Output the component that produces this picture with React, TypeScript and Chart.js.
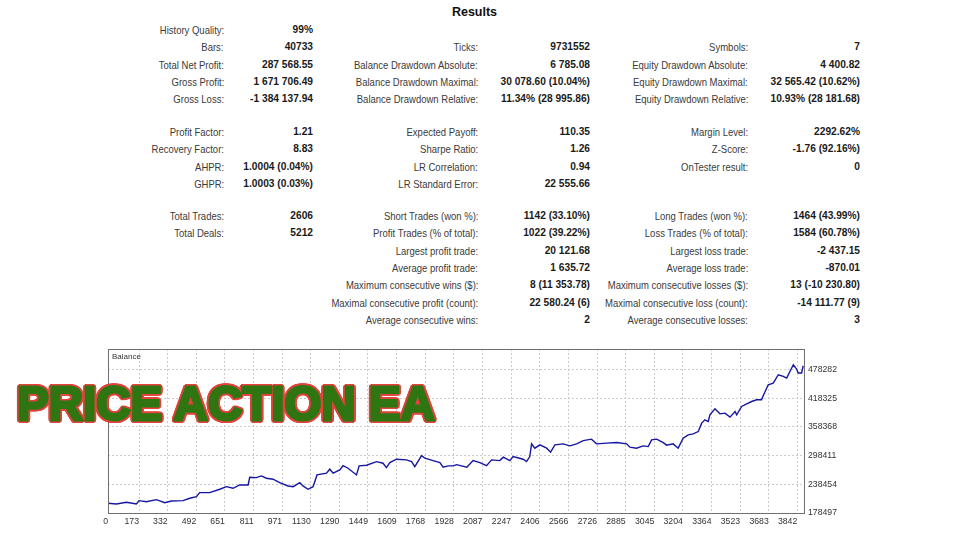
import React, { useEffect, useRef } from "react";
import { Chart, registerables } from "chart.js";
Chart.register(...registerables);

// ---------- report text ----------
const reportTitle = "Results";
const overlayText = "PRICE ACTION EA";
const chartCaption = "Balance";

const group1Labels = [
  ["History Quality:", "", ""],
  ["Bars:", "Ticks:", "Symbols:"],
  ["Total Net Profit:", "Balance Drawdown Absolute:", "Equity Drawdown Absolute:"],
  ["Gross Profit:", "Balance Drawdown Maximal:", "Equity Drawdown Maximal:"],
  ["Gross Loss:", "Balance Drawdown Relative:", "Equity Drawdown Relative:"],
];
const group1Values = [
  ["99%", "", ""],
  ["40733", "9731552", "7"],
  ["287 568.55", "6 785.08", "4 400.82"],
  ["1 671 706.49", "30 078.60 (10.04%)", "32 565.42 (10.62%)"],
  ["-1 384 137.94", "11.34% (28 995.86)", "10.93% (28 181.68)"],
];
const group2Labels = [
  ["Profit Factor:", "Expected Payoff:", "Margin Level:"],
  ["Recovery Factor:", "Sharpe Ratio:", "Z-Score:"],
  ["AHPR:", "LR Correlation:", "OnTester result:"],
  ["GHPR:", "LR Standard Error:", ""],
];
const group2Values = [
  ["1.21", "110.35", "2292.62%"],
  ["8.83", "1.26", "-1.76 (92.16%)"],
  ["1.0004 (0.04%)", "0.94", "0"],
  ["1.0003 (0.03%)", "22 555.66", ""],
];
const group3Labels = [
  ["Total Trades:", "Short Trades (won %):", "Long Trades (won %):"],
  ["Total Deals:", "Profit Trades (% of total):", "Loss Trades (% of total):"],
  ["", "Largest profit trade:", "Largest loss trade:"],
  ["", "Average profit trade:", "Average loss trade:"],
  ["", "Maximum consecutive wins ($):", "Maximum consecutive losses ($):"],
  ["", "Maximal consecutive profit (count):", "Maximal consecutive loss (count):"],
  ["", "Average consecutive wins:", "Average consecutive losses:"],
];
const group3Values = [
  ["2606", "1142 (33.10%)", "1464 (43.99%)"],
  ["5212", "1022 (39.22%)", "1584 (60.78%)"],
  ["", "20 121.68", "-2 437.15"],
  ["", "1 635.72", "-870.01"],
  ["", "8 (11 353.78)", "13 (-10 230.80)"],
  ["", "22 580.24 (6)", "-14 111.77 (9)"],
  ["", "2", "3"],
];

// ---------- balance curve ----------
const tradeIndex = [
  0, 47, 103, 158, 173, 214, 270, 316, 354, 418, 456, 493, 511, 567, 623, 660, 697, 734, 781, 790,
  827, 855, 883, 920, 957, 1004, 1032, 1069, 1087, 1115, 1143, 1165, 1218, 1236, 1255, 1292, 1310, 1338, 1385, 1400,
  1441, 1497, 1533, 1552, 1571, 1608, 1664, 1692, 1710, 1748, 1766, 1812, 1850, 1868, 1896, 1924, 1943, 2000, 2035, 2073,
  2110, 2138, 2184, 2203, 2240, 2258, 2314, 2333, 2351, 2361, 2379, 2407, 2445, 2467, 2491, 2537, 2574, 2612, 2649, 2695,
  2723, 2779, 2835, 2891, 2909, 2946, 2983, 3011, 3030, 3058, 3095, 3114, 3150, 3178, 3206, 3234, 3262, 3290, 3309, 3327,
  3346, 3355, 3383, 3411, 3439, 3467, 3495, 3504, 3532, 3560, 3588, 3615, 3643, 3652, 3680, 3708, 3736, 3764, 3783, 3801,
  3820, 3838, 3847, 3866, 3875,
];
const balance = [
  198790, 197325, 200881, 197325, 204229, 202137, 206321, 200045, 203601, 204229, 209249, 212597, 220965, 220965, 228077, 233517, 230169, 237073, 237073, 253181,
  252345, 255901, 251089, 248997, 241885, 234981, 233517, 241885, 234981, 228077, 233517, 257993, 261549, 269917, 261549, 268453, 277449, 272009, 257993, 276821,
  278285, 285817, 282469, 273265, 283725, 290837, 289373, 285817, 275357, 298369, 292929, 287909, 283725, 274101, 276821, 276821, 279541, 274101, 287909, 283725,
  277449, 289373, 287909, 295021, 287909, 296277, 290837, 285817, 296277, 322845, 313849, 320753, 313849, 305481, 320753, 322845, 318661, 322845, 329749, 332677,
  322845, 324309, 325565, 322845, 315941, 313849, 318661, 317197, 331213, 332677, 325565, 320125, 322845, 313849, 334769, 341673, 343765, 348577, 366149, 373053,
  369497, 383513, 396065, 385605, 387069, 378701, 390417, 383513, 400877, 406525, 411337, 414893, 414893, 423261, 446273, 449829, 467193, 463637, 460289, 474097,
  488113, 479117, 470749, 470749, 486021,
];

const xTickValues = [0, 173, 332, 492, 651, 811, 971, 1130, 1290, 1449, 1609, 1768, 1928, 2087, 2247, 2406, 2566, 2726, 2885, 3045, 3204, 3364, 3523, 3683, 3842];
const yTickValues = [178497, 238454, 298411, 358368, 418325, 478282];
const xMax = 3885;
const yMin = 178497;
const yMax = 520957;

// ---------- layout ----------
const FONT = '"Liberation Sans", Arial, sans-serif';
const groupTops = [30, 132, 216];
const rowStep = 17.33;
const labelRight = [224, 478, 748];
const valueRight = [313, 590, 860];

function Cell({ text, right, cy, bold }: { text: string; right: number; cy: number; bold?: boolean }) {
  if (!text) return null;
  return (
    <div
      style={{
        position: "absolute",
        right: 960 - right,
        top: cy - 6,
        height: 12,
        lineHeight: "12px",
        fontSize: bold ? 10.2 : 10.5,
        fontWeight: bold ? 700 : 400,
        color: bold ? "#1a1a1a" : "#3a3a3a",
        whiteSpace: "nowrap",
        transform: bold ? "none" : "scaleX(0.905)",
        transformOrigin: "right center",
      }}
    >
      {text}
    </div>
  );
}

function outlineShadow(r: number, color: string) {
  const parts: string[] = [];
  for (let i = 0; i < 24; i++) {
    const a = (i / 24) * Math.PI * 2;
    parts.push(`${(Math.cos(a) * r).toFixed(2)}px ${(Math.sin(a) * r).toFixed(2)}px 0 ${color}`);
  }
  return parts.join(", ");
}

export default function App() {
  const ref = useRef<HTMLCanvasElement | null>(null);

  useEffect(() => {
    if (!ref.current) return;
    const framePlugin = {
      id: "frame",
      afterDraw(chart: any) {
        const { ctx, chartArea } = chart;
        ctx.save();
        ctx.strokeStyle = "#6f6f6f";
        ctx.lineWidth = 1;
        ctx.strokeRect(
          Math.round(chartArea.left) + 0.5,
          Math.round(chartArea.top) + 0.5,
          Math.round(chartArea.right - chartArea.left) - 1,
          Math.round(chartArea.bottom - chartArea.top)
        );
        ctx.fillStyle = "#333";
        ctx.font = `8px ${FONT}`;
        ctx.textBaseline = "middle";
        ctx.fillText(chartCaption, chartArea.left + 4, chartArea.top + 8);
        ctx.restore();
      },
    };

    const chart = new Chart(ref.current, {
      type: "line",
      data: {
        datasets: [
          {
            data: tradeIndex.map((x, i) => ({ x, y: balance[i] })),
            borderColor: "#1616a2",
            borderWidth: 1.4,
            pointRadius: 0,
            tension: 0,
            fill: false,
          },
        ],
      },
      options: {
        animation: false,
        responsive: false,
        devicePixelRatio: 1,
        layout: { padding: { left: 8, top: 9, right: 0, bottom: 0 } },
        plugins: { legend: { display: false }, tooltip: { enabled: false } },
        scales: {
          x: {
            type: "linear",
            min: 0,
            max: xMax,
            afterBuildTicks: (s: any) => {
              s.ticks = xTickValues.map((v) => ({ value: v }));
            },
            afterFit: (s: any) => {
              s.height = 18;
            },
            ticks: {
              align: "end",
              autoSkip: false,
              maxRotation: 0,
              minRotation: 0,
              padding: 3,
              color: "#333",
              font: { size: 8.7, family: FONT },
              callback: (v: any) => String(v),
            },
            grid: { color: "#cccccc", lineWidth: 1, drawTicks: false },
            border: { display: false, dash: [2, 2] },
          },
          y: {
            position: "right",
            min: yMin,
            max: yMax,
            afterBuildTicks: (s: any) => {
              s.ticks = yTickValues.map((v) => ({ value: v }));
            },
            afterFit: (s: any) => {
              s.width = 55;
            },
            ticks: {
              padding: 3,
              color: "#333",
              font: { size: 8.7, family: FONT },
              callback: (v: any) => String(v),
            },
            grid: { color: "#cccccc", lineWidth: 1, drawTicks: false },
            border: { display: false, dash: [2, 2] },
          },
        },
      } as any,
      plugins: [framePlugin],
    });
    return () => chart.destroy();
  }, []);

  const groups = [
    [group1Labels, group1Values],
    [group2Labels, group2Values],
    [group3Labels, group3Values],
  ];

  return (
    <div
      style={{
        position: "fixed",
        left: 0,
        top: 0,
        width: 960,
        height: 540,
        background: "#ffffff",
        fontFamily: FONT,
        overflow: "hidden",
      }}
    >
      <div
        style={{
          position: "absolute",
          left: 474.5,
          top: 5,
          transform: "translateX(-50%)",
          fontSize: 12.5,
          lineHeight: "14px",
          fontWeight: 700,
          color: "#111",
          whiteSpace: "nowrap",
        }}
      >
        {reportTitle}
      </div>
      {groups.map(([labels, values], g) =>
        labels.map((row, r) =>
          row.map((lab, c) => {
            const cy = groupTops[g] + r * rowStep;
            return (
              <React.Fragment key={`${g}-${r}-${c}`}>
                <Cell text={lab} right={labelRight[c]} cy={cy} />
                <Cell text={values[r][c]} right={valueRight[c]} cy={cy} bold />
              </React.Fragment>
            );
          })
        )
      )}
      <canvas
        ref={ref}
        width={760}
        height={191}
        style={{ position: "absolute", left: 100, top: 340, width: 760, height: 191 }}
      />
      <div
        style={{
          position: "absolute",
          left: 17,
          top: 379,
          fontFamily: FONT,
          fontSize: 47.5,
          lineHeight: "49px",
          fontWeight: 700,
          color: "#2f7512",
          WebkitTextStroke: "3px #2f7512",
          textShadow: outlineShadow(3.2, "#e4433e"),
          transform: "scaleX(1)",
          transformOrigin: "left top",
          whiteSpace: "nowrap",
          zIndex: 2,
        }}
      >
        {overlayText}
      </div>
    </div>
  );
}
